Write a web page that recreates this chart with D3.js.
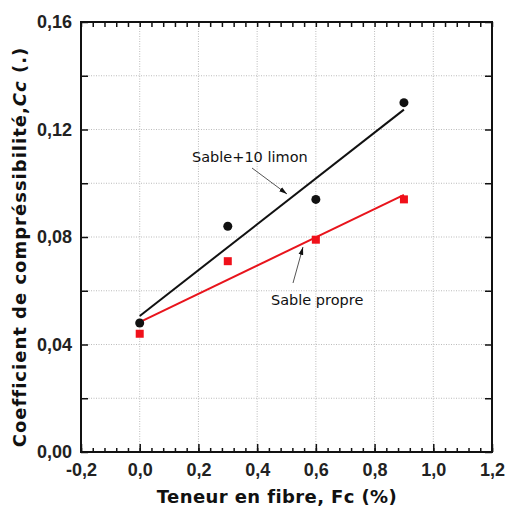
<!DOCTYPE html>
<html lang="fr">
<head>
<meta charset="UTF-8" />
<title>Cc vs Fc</title>
<style>
    body { margin: 0; background: #fff; }
    .title { font-family: "Comic Sans MS", "DejaVu Sans", sans-serif; font-weight: bold; fill: #111; }
    .note { font-family: "Comic Sans MS", "DejaVu Sans", sans-serif; font-size: 14.5px; fill: #111; }
</style>
</head>
<body>
<div id="container"></div>
<script src="https://cdnjs.cloudflare.com/ajax/libs/d3/7.8.5/d3.min.js"></script>
<script>
    // données
    let fibre = [0.0, 0.3, 0.6, 0.9],
        sableLimon = [0.048, 0.084, 0.094, 0.130],
        sablePropre = [0.044, 0.071, 0.079, 0.094],
        xTicks = [-0.2, 0, 0.2, 0.4, 0.6, 0.8, 1.0, 1.2],
        yTicks = [0, 0.04, 0.08, 0.12, 0.16];

    let W = 505, H = 511,
        m = { l: 81, r: 13, t: 22, b: 59 };

    let x = d3.scaleLinear().domain([-0.2, 1.2]).range([m.l, W - m.r]),
        y = d3.scaleLinear().domain([0, 0.16]).range([H - m.b, m.t]);

    let svg = d3.select("#container").append("svg").attr("width", W).attr("height", H);
    let fmt = d => d.toFixed(1).replace(".", ",");
    let fmtY = d => d.toFixed(2).replace(".", ",");

    // grille pointillée
    let grid = svg.append("g").attr("stroke", "#bbb").attr("stroke-dasharray", "1,1.5").attr("stroke-width", 1);
    d3.range(-0.2, 1.21, 0.2).forEach(v => grid.append("line")
        .attr("x1", x(v)).attr("x2", x(v)).attr("y1", y(0)).attr("y2", y(0.16)));
    d3.range(0, 0.161, 0.02).forEach(v => grid.append("line")
        .attr("x1", x(-0.2)).attr("x2", x(1.2)).attr("y1", y(v)).attr("y2", y(v)));

    // axes (ticks vers l'intérieur)
    let minorX = d3.range(-0.2, 1.2001, 0.04);
    let minorY = d3.range(0, 0.1601, 0.02);
    svg.append("g").attr("transform", `translate(0,${y(0)})`)
        .call(d3.axisBottom(x).tickValues(minorX).tickSize(-4).tickFormat(""))
        .call(g => g.select(".domain").remove());
    svg.append("g").attr("transform", `translate(0,${y(0)})`)
        .call(d3.axisBottom(x).tickValues(xTicks).tickSize(-8).tickPadding(11).tickFormat(fmt))
        .call(g => g.select(".domain").remove());
    svg.append("g").attr("transform", `translate(0,${y(0.16)})`)
        .call(d3.axisTop(x).tickValues(minorX).tickSize(-5).tickFormat(""))
        .call(g => g.select(".domain").remove());
    svg.append("g").attr("transform", `translate(${x(-0.2)},0)`)
        .call(d3.axisLeft(y).tickValues(minorY).tickSize(-7).tickFormat(""))
        .call(g => g.select(".domain").remove());
    svg.append("g").attr("transform", `translate(${x(-0.2)},0)`)
        .call(d3.axisLeft(y).tickValues(yTicks).tickSize(0).tickPadding(9).tickFormat(fmtY))
        .call(g => g.select(".domain").remove());
    svg.append("g").attr("transform", `translate(${x(1.2)},0)`)
        .call(d3.axisRight(y).tickValues(minorY).tickSize(-7).tickFormat(""))
        .call(g => g.select(".domain").remove());
    svg.selectAll(".tick line").attr("stroke", "#111").attr("stroke-width", 1.5);
    svg.selectAll(".tick text")
        .attr("font-family", "'Liberation Sans', Arial, sans-serif")
        .attr("font-weight", "bold").attr("font-size", 18).attr("fill", "#222");

    svg.append("rect").attr("x", x(-0.2)).attr("y", y(0.16))
        .attr("width", x(1.2) - x(-0.2)).attr("height", y(0) - y(0.16))
        .attr("fill", "none").attr("stroke", "#111").attr("stroke-width", 2);

    // droites de régression
    function fit(xs, ys) {
        let mx = d3.mean(xs), my = d3.mean(ys);
        let a = d3.sum(xs, (v, i) => (v - mx) * (ys[i] - my)) / d3.sum(xs, v => (v - mx) * (v - mx));
        return [[xs[0], my + a * (xs[0] - mx)], [xs[xs.length - 1], my + a * (xs[xs.length - 1] - mx)]];
    }
    let line = d3.line().x(d => x(d[0])).y(d => y(d[1]));
    svg.append("path").attr("d", line(fit(fibre, sableLimon))).attr("stroke", "#111").attr("stroke-width", 2).attr("fill", "none");
    svg.append("path").attr("d", line(fit(fibre, sablePropre))).attr("stroke", "#e8141c").attr("stroke-width", 2).attr("fill", "none");

    // points
    svg.selectAll(".pt").data(fibre).enter().append("circle")
        .attr("cx", d => x(d)).attr("cy", (d, i) => y(sableLimon[i])).attr("r", 4.5).attr("fill", "#111");
    svg.selectAll(".sq").data(fibre).enter().append("rect")
        .attr("x", d => x(d) - 4).attr("y", (d, i) => y(sablePropre[i]) - 4)
        .attr("width", 8).attr("height", 8).attr("fill", "#f0101a");

    // annotations
    svg.append("defs").append("marker").attr("id", "arr").attr("viewBox", "0 0 10 10")
        .attr("refX", 10).attr("refY", 5).attr("markerWidth", 8).attr("markerHeight", 8).attr("orient", "auto")
        .append("path").attr("d", "M0,2 L10,5 L0,8 Z").attr("fill", "#111");
    svg.append("text").attr("class", "note").attr("x", 192).attr("y", 162).text("Sable+10 limon");
    svg.append("line").attr("x1", 252).attr("y1", 168).attr("x2", 287).attr("y2", 194)
        .attr("stroke", "#555").attr("stroke-width", 1).attr("marker-end", "url(#arr)");
    svg.append("text").attr("class", "note").attr("x", 271).attr("y", 305).text("Sable propre");
    svg.append("line").attr("x1", 293).attr("y1", 283).attr("x2", 303).attr("y2", 247)
        .attr("stroke", "#555").attr("stroke-width", 1).attr("marker-end", "url(#arr)");

    // titres
    svg.append("text").attr("class", "title").attr("x", 277).attr("y", 503)
        .attr("text-anchor", "middle").attr("font-size", 18).attr("letter-spacing", 0.4).text("Teneur en fibre, Fc (%)");
    let yt = svg.append("text").attr("class", "title").attr("transform", "translate(26,247) rotate(-90)")
        .attr("text-anchor", "middle").attr("font-size", 18).attr("letter-spacing", 1);
    yt.append("tspan").text("Coefficient de compréssibilité,");
    yt.append("tspan").attr("font-style", "italic").text("Cc");
    yt.append("tspan").text(" (.)");
</script>
</body>
</html>
